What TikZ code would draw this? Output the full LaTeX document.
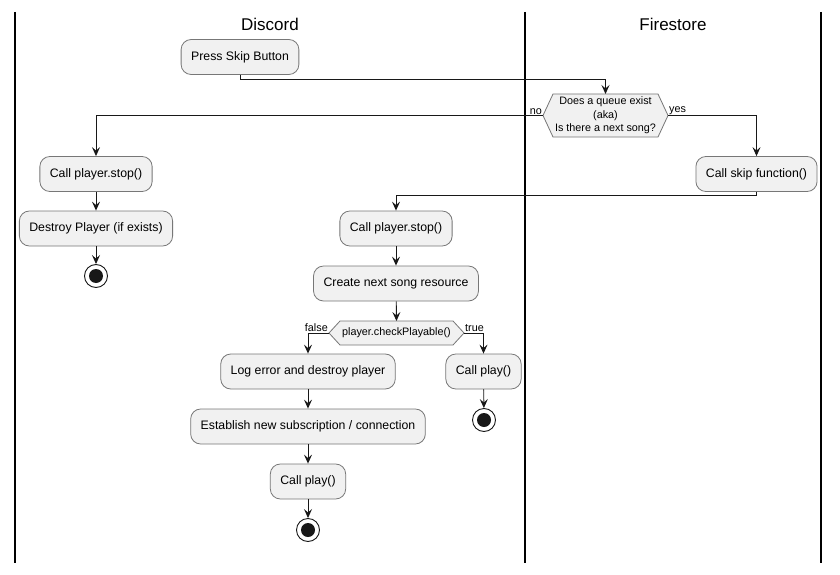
\documentclass[tikz,border=0pt]{standalone}
\usepackage{fontspec}
\setmainfont{Liberation Sans}
\usetikzlibrary{arrows.meta,calc}
\definecolor{nfill}{HTML}{F1F1F1}
\definecolor{nborder}{HTML}{777777}
\definecolor{ln}{HTML}{181818}
\begin{document}
\begin{tikzpicture}[x=1pt,y=-1pt,
  act/.style={draw=nborder, fill=nfill, rounded corners=10pt, minimum height=35pt,
    inner xsep=10pt, inner ysep=0pt, line width=0.8pt, font=\fontsize{12.3}{14}\selectfont},
  hexbox/.style={draw=none, inner sep=0pt, outer sep=0pt, align=center,
    font=\fontsize{10.8}{13.5}\selectfont},
  hexline/.style={draw=nborder, fill=nfill, line width=0.8pt},
  arr/.style={draw=ln, line width=0.9pt, -{Stealth[length=9pt,width=8pt,inset=3.5pt]}},
  lane/.style={draw=black, line width=1.3pt},
  lanetitle/.style={font=\fontsize{17}{20}\selectfont},
  lbl/.style={inner sep=1pt, font=\fontsize{10.8}{13}\selectfont},
  endouter/.style={circle, draw=ln, fill=white, line width=0.9pt, minimum size=23pt, inner sep=0pt},
]
\useasboundingbox[fill=white] (0,0) rectangle (840,575);

% lanes
\draw[lane] (15,12) coordinate (l1t) -- (15,563) coordinate (l1b);
\draw[lane] (525,12) coordinate (l2t) -- (525,563) coordinate (l2b);
\draw[lane] (821,12) coordinate (l3t) -- (821,563) coordinate (l3b);
\node[lanetitle] (tDiscord) at (270,24) {Discord};
\node[lanetitle] (tFire) at (673,24) {Firestore};

% nodes
\node[act] (press) at (240,57) {Press Skip Button};

\node[hexbox, minimum width=125pt, minimum height=43pt] (d1) at (605.5,115.5)
  {Does a queue exist\\(aka)\\Is there a next song?};
\begin{scope}[on background layer/.try]
\end{scope}
\path[hexline] (d1.west) -- ([xshift=10pt]d1.north west) -- ([xshift=-10pt]d1.north east)
  -- (d1.east) -- ([xshift=-10pt]d1.south east) -- ([xshift=10pt]d1.south west) -- cycle;
\node[hexbox] (d1t) at (d1.center) {Does a queue exist\\(aka)\\Is there a next song?};

\node[act] (stopA) at (96,174) {Call player.stop()};
\node[act] (destroy) at (96,228.5) {Destroy Player (if exists)};
\node[endouter] (endA) at (96,276) {};
\fill[ln] (endA.center) circle (7pt);

\node[act] (skip) at (756.5,174) {Call skip function()};

\node[act] (stopB) at (396,228.5) {Call player.stop()};
\node[act] (create) at (396,283.5) {Create next song resource};

\node[hexbox, minimum width=135pt, minimum height=24pt] (d2) at (396.5,333) {};
\path[hexline] (d2.west) -- ([xshift=11pt]d2.north west) -- ([xshift=-11pt]d2.north east)
  -- (d2.east) -- ([xshift=-11pt]d2.south east) -- ([xshift=11pt]d2.south west) -- cycle;
\node[hexbox] (d2t) at (d2.center) {player.checkPlayable()};

\node[act] (log) at (308,371.5) {Log error and destroy player};
\node[act] (playA) at (483.5,371.5) {Call play()};
\node[endouter] (endB) at (484,420) {};
\fill[ln] (endB.center) circle (7pt);

\node[act] (estab) at (308,426.5) {Establish new subscription / connection};
\node[act] (playB) at (308,481.5) {Call play()};
\node[endouter] (endC) at (308,530) {};
\fill[ln] (endC.center) circle (7pt);

% labels
\node[lbl, anchor=south east] (lno) at (d1.west) {no};
\node[lbl, anchor=south west] (lyes) at (d1.east) {yes};
\node[lbl, anchor=south east] (lfalse) at (d2.west) {false};
\node[lbl, anchor=south west] (ltrue) at (d2.east) {true};

% connectors
\draw[arr] (press.south) -- ++(0,5) -| (d1.north);
\draw[arr] (d1.west) -| (stopA.north);
\draw[arr] (d1.east) -| (skip.north);
\draw[arr] (stopA) -- (destroy);
\draw[arr] (destroy) -- (endA);
\draw[arr] (skip.south) -- ++(0,4) -| (stopB.north);
\draw[arr] (stopB) -- (create);
\draw[arr] (create) -- (d2.north);
\draw[arr] (d2.west) -| (log.north);
\draw[arr] (d2.east) -| (playA.north);
\draw[arr] (playA) -- (endB);
\draw[arr] (log) -- (estab);
\draw[arr] (estab) -- (playB);
\draw[arr] (playB) -- (endC);
\end{tikzpicture}
\end{document}
